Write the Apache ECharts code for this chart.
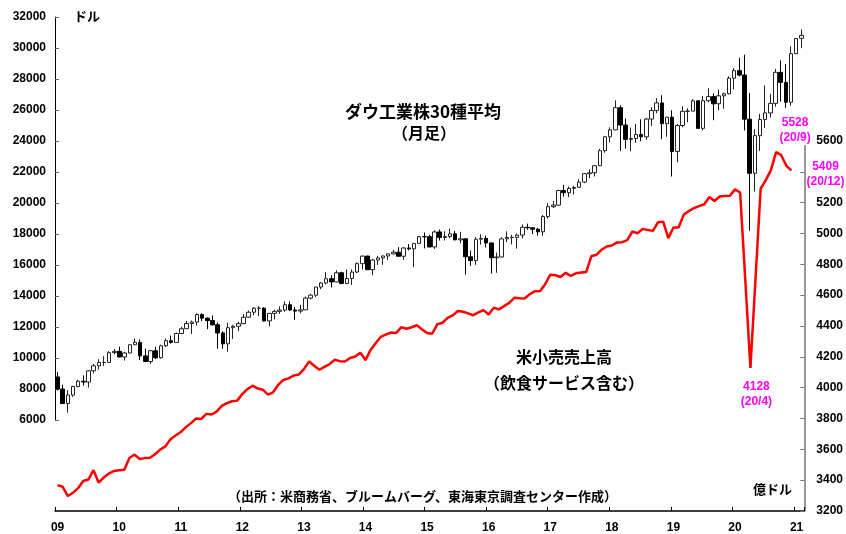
<!DOCTYPE html>
<html><head><meta charset="utf-8">
<script src="https://cdn.jsdelivr.net/npm/echarts@6/dist/echarts.min.js"></script>
<style>html,body{margin:0;padding:0;background:#fff}#c{width:846px;height:534px}</style>
</head><body><div id="c"></div>
<script>
// Monthly categories 2009-01 .. 2021-02
const months = [];
for (let y = 2009; y <= 2021; y++) {
  for (let m = 1; m <= 12; m++) {
    if (y === 2021 && m > 2) break;
    months.push(y + '-' + (m < 10 ? '0' + m : '' + m));
  }
}
const yearLabels = ['09','10','11','12','13','14','15','16','17','18','19','20','21'];

// DJIA monthly [open, high, low, close]
const dowOHLC = [
  [8776,9088,7909,8001],[8001,8280,7050,7063],[7063,7924,6470,7609],[7609,8200,7490,8168],
  [8168,8590,8100,8500],[8500,8880,8220,8447],[8447,9210,8090,9172],[9172,9620,9010,9496],
  [9496,9920,9250,9712],[9712,10120,9490,9713],[9713,10450,9680,10345],[10345,10580,10240,10428],
  [10428,10730,10040,10067],[10067,10400,9835,10325],[10325,10900,10300,10857],[10857,11260,10850,11009],
  [11009,11200,9870,10137],[10137,10600,9740,9774],[9774,10500,9610,10466],[10466,10720,9940,10015],
  [10015,10860,9960,10788],[10788,11260,10710,11118],[11118,11450,10930,11006],[11006,11640,11000,11578],
  [11578,12010,11560,11892],[11892,12390,11890,12226],[12226,12420,11560,12320],[12320,12880,12090,12811],
  [12811,12880,12370,12570],[12570,12620,11860,12414],[12414,12750,12090,12143],[12143,12290,10600,11614],
  [11614,11720,10600,10913],[10913,12280,10400,11955],[11955,12140,11230,12046],[12046,12340,11730,12218],
  [12218,12840,12200,12633],[12633,13060,12600,12952],[12952,13290,12760,13212],[13212,13340,12710,13214],
  [13214,13280,12350,12393],[12393,12900,12040,12880],[12880,13120,12490,13009],[13009,13330,12850,13091],
  [13091,13650,12980,13437],[13437,13660,13050,13096],[13096,13290,12470,13026],[13026,13430,12880,13104],
  [13104,13970,13100,13861],[13861,14150,13780,14054],[14054,14590,13940,14579],[14579,14890,14440,14840],
  [14840,15540,14750,15116],[15116,15340,14550,14910],[14910,15660,14890,15500],[15500,15560,14760,14810],
  [14810,15710,14780,15130],[15130,15710,14720,15546],[15546,16170,15480,16086],[16086,16590,15700,16577],
  [16577,16590,15690,15699],[15699,16400,15340,16322],[16322,16590,16000,16458],[16458,16630,16020,16581],
  [16581,16740,16330,16717],[16717,16980,16680,16827],[16827,17150,16560,16563],[16563,17150,16330,17098],
  [17098,17350,16940,17043],[17043,17400,15860,17391],[17391,17890,17350,17828],[17828,18100,17070,17823],
  [17823,17950,17140,17165],[17165,18240,17040,18133],[18133,18290,17580,17776],[17776,18170,17580,17841],
  [17841,18350,17720,18011],[18011,18200,17600,17620],[17620,18140,17400,17690],[17690,17700,15370,16528],
  [16528,16930,15940,16285],[16285,17800,16010,17664],[17664,17980,17320,17720],[17720,17900,17130,17425],
  [17425,17430,15450,16466],[16466,16800,15500,16517],[16517,17790,16500,17685],[17685,18170,17480,17774],
  [17774,17940,17330,17787],[17787,18020,17060,17930],[17930,18620,17710,18432],[18432,18670,18280,18401],
  [18401,18450,18000,18308],[18308,18400,17890,18142],[18142,19230,17880,19124],[19124,19990,19000,19763],
  [19763,20130,19680,19864],[19864,20850,19830,20812],[20812,21170,20410,20663],[20663,21070,20380,20941],
  [20941,21110,20550,21009],[21009,21540,20990,21350],[21350,21930,21280,21891],[21891,22180,21600,21948],
  [21948,22420,21710,22405],[22405,23490,22400,23377],[23377,24330,23240,24272],[24272,24880,23920,24719],
  [24719,26620,24700,26149],[26149,26300,23360,25029],[25029,25450,23510,24103],[24103,24860,23340,24163],
  [24163,25090,23880,24416],[24416,25400,23990,24271],[24271,25490,24080,25415],[25415,26170,24970,25965],
  [25965,26770,25790,26458],[26458,26950,24120,25116],[25116,25540,24270,25538],[25538,25980,21710,23327],
  [23327,25100,22640,24999],[24999,26240,24880,25916],[25916,26110,25210,25929],[25929,26700,25920,26593],
  [26593,26640,24800,24815],[24815,26910,24680,26600],[26600,27400,26500,26864],[26864,27070,25340,26403],
  [26403,27310,25980,26917],[26917,27130,26080,27046],[27046,28170,27010,28051],[28051,28700,27330,28538],
  [28538,29370,28170,28256],[28256,29570,24680,25409],[25409,27100,18210,21917],[21917,24760,20740,24346],
  [24346,25760,23360,25383],[25383,27580,24840,25813],[25813,27040,25520,26428],[26428,28650,26210,28430],
  [28430,29200,26540,27782],[27782,28960,26140,26502],[26502,30110,26270,29638],[29638,30640,29600,30606],
  [30628,31193,29990,30814]
];

// US retail & food services sales, monthly (億ドル)
const retailSales = [
  3368,3357,3297,3318,3348,3395,3404,3465,3385,3417,3443,3460,
  3465,3468,3544,3566,3537,3543,3545,3568,3598,3619,3665,3690,
  3712,3744,3770,3800,3797,3830,3826,3845,3882,3900,3912,3916,
  3959,3990,4013,3994,3987,3955,3970,4019,4050,4060,4078,4085,
  4120,4170,4142,4116,4135,4153,4181,4172,4170,4192,4202,4226,
  4179,4245,4290,4330,4345,4358,4355,4393,4382,4392,4405,4378,
  4355,4350,4411,4421,4453,4469,4497,4492,4482,4470,4488,4503,
  4475,4518,4508,4529,4550,4583,4580,4578,4606,4626,4626,4671,
  4733,4729,4718,4745,4725,4742,4747,4750,4852,4862,4895,4916,
  4922,4942,4944,4957,5013,5002,5030,5022,5017,5073,5077,4970,
  5039,5039,5121,5146,5165,5178,5190,5237,5211,5240,5243,5245,
  5286,5266,4700,4128,4710,5292,5346,5411,5528,5508,5439,5409
];

const annotations = [
  { month: '2020-09', value: 5528, text: '5528\n(20/9)', offset: [19, -22] },
  { month: '2020-12', value: 5409, text: '5409\n(20/12)', offset: [34, 4] },
  { month: '2020-04', value: 4128, text: '4128\n(20/4)', offset: [6, 26] }
];

const numFont = "'Liberation Sans', Arial, sans-serif";
const jpFont = "'Noto Sans CJK JP', sans-serif";

const chart = echarts.init(document.getElementById('c'), null, { renderer: 'canvas' });
const isJan = (i) => i % 12 === 0;

chart.setOption({
  animation: false,
  backgroundColor: '#fff',
  grid: [
    { left: 55, right: 37, top: 17, height: 403 },
    { left: 55, right: 37, top: 141, height: 371 }
  ],
  xAxis: [
    { gridIndex: 0, type: 'category', data: months, boundaryGap: true, show: false },
    { gridIndex: 1, type: 'category', data: months, boundaryGap: true,
      axisLine: { show: true, lineStyle: { color: '#000', width: 1.5 } },
      axisTick: { show: true, inside: true, length: 4, interval: isJan, lineStyle: { color: '#000' } },
      axisLabel: { interval: isJan, formatter: (v) => yearLabels[parseInt(v.slice(0,4), 10) - 2009],
        color: '#000', fontWeight: 'bold', fontSize: 12, fontFamily: numFont, margin: 11 },
      splitLine: { show: false } }
  ],
  yAxis: [
    { gridIndex: 0, type: 'value', position: 'left', min: 6000, max: 32000, interval: 2000,
      axisLine: { show: true, lineStyle: { color: '#000', width: 1 } },
      axisTick: { show: true, inside: true, length: 4, lineStyle: { color: '#666' } },
      axisLabel: { formatter: (v) => String(v), color: '#000', fontWeight: 'bold', fontSize: 12, fontFamily: numFont, margin: 9 },
      splitLine: { show: false } },
    { gridIndex: 1, type: 'value', position: 'right', min: 3200, max: 5600, interval: 200,
      axisLine: { show: true, lineStyle: { color: '#777', width: 1.5 } },
      axisTick: { show: true, inside: true, length: 4, lineStyle: { color: '#777' } },
      axisLabel: { formatter: (v) => String(v), color: '#000', fontWeight: 'bold', fontSize: 12, fontFamily: numFont, margin: 12 },
      splitLine: { show: false } }
  ],
  series: [
    { type: 'candlestick', xAxisIndex: 0, yAxisIndex: 0, barWidth: 4,
      data: dowOHLC.map(([o, h, l, c]) => [o, c, l, h]),
      itemStyle: { color: '#fff', color0: '#000', borderColor: '#222', borderColor0: '#000', borderWidth: 1 } },
    { type: 'line', xAxisIndex: 1, yAxisIndex: 1, data: retailSales, symbol: 'none',
      lineStyle: { color: '#ff0000', width: 2.5 },
      markPoint: {
        symbol: 'circle', symbolSize: 1, itemStyle: { color: 'rgba(0,0,0,0)' },
        data: annotations.map(a => ({
          coord: [a.month, a.value],
          label: { show: true, position: 'inside', offset: a.offset, formatter: a.text,
            color: '#ff00ff', fontWeight: 'bold', fontSize: 12, lineHeight: 15, fontFamily: numFont,
            align: 'center', verticalAlign: 'middle', backgroundColor: '#fff' }
        }))
      } }
  ],
  graphic: [
    { type: 'text', left: 74, top: 10, style: { text: 'ドル', font: 'bold 13px ' + jpFont, fill: '#000' } },
    { type: 'text', x: 423, y: 112, style: { text: 'ダウ工業株30種平均', font: 'bold 17px ' + jpFont, fill: '#000', textAlign: 'center', textVerticalAlign: 'middle' } },
    { type: 'text', x: 424, y: 133, style: { text: '（月足）', font: 'bold 16px ' + jpFont, fill: '#000', textAlign: 'center', textVerticalAlign: 'middle' } },
    { type: 'text', x: 564, y: 357, style: { text: '米小売売上高', font: 'bold 16px ' + jpFont, fill: '#000', textAlign: 'center', textVerticalAlign: 'middle' } },
    { type: 'text', x: 564, y: 383, style: { text: '（飲食サービス含む）', font: 'bold 16px ' + jpFont, fill: '#000', textAlign: 'center', textVerticalAlign: 'middle' } },
    { type: 'text', x: 228, y: 496, style: { text: '（出所：米商務省、ブルームバーグ、東海東京調査センター作成）', font: 'bold 13px ' + jpFont, fill: '#000', textVerticalAlign: 'middle' } },
    { type: 'text', x: 753, y: 489, style: { text: '億ドル', font: 'bold 13px ' + jpFont, fill: '#000', textVerticalAlign: 'middle' } }
  ]
});
</script>
</body></html>
